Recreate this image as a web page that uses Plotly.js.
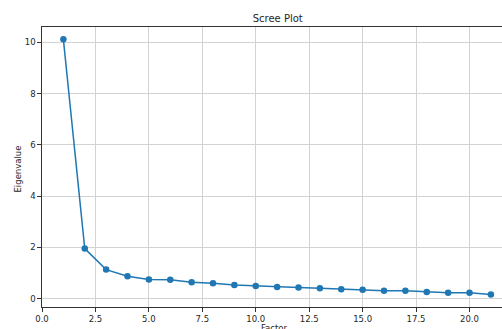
<!DOCTYPE html>
<html>
<head>
<meta charset="utf-8">
<script src="https://cdn.plot.ly/plotly-3.0.1.min.js"></script>
<style>html,body{margin:0;padding:0;background:#fff;}#chart{width:502px;height:329px;}</style>
</head>
<body>
<div id="chart"></div>
<script>
const factors = [1,2,3,4,5,6,7,8,9,10,11,12,13,14,15,16,17,18,19,20,21];
const eigenvalues = [10.12,1.95,1.13,0.87,0.74,0.73,0.64,0.60,0.53,0.49,0.45,0.43,0.40,0.36,0.34,0.30,0.30,0.26,0.23,0.23,0.16];
const xTicks = [0,2.5,5,7.5,10,12.5,15,17.5,20];
const yTicks = [0,2,4,6,8,10];

const trace = {
  x: factors, y: eigenvalues, type: 'scatter', mode: 'lines+markers',
  line: {color: '#1f77b4', width: 1.5},
  marker: {color: '#1f77b4', size: 6.5}
};
const font = {family: 'DejaVu Sans, sans-serif', size: 8.5, color: '#262626'};
const layout = {
  width: 502, height: 329,
  margin: {l: 42, r: 0, t: 27, b: 22, pad: 0},
  paper_bgcolor: '#fff', plot_bgcolor: '#fff',
  font: font,
  showlegend: false,
  title: {text: 'Scree Plot', font: {family: 'DejaVu Sans, sans-serif', size: 10, color: '#262626'},
          xref: 'container', yref: 'container', x: 277.7 / 502, y: 1 - 18.5 / 329, xanchor: 'center', yanchor: 'middle'},
  xaxis: {
    range: [0, 21.52], tickvals: xTicks, ticktext: xTicks.map(v => v.toFixed(1)),
    showgrid: true, gridcolor: '#d3d3d3', gridwidth: 1,
    showline: true, linecolor: '#333', linewidth: 1.2, mirror: true,
    ticks: 'outside', ticklen: 3.5, tickcolor: '#333', zeroline: false,
    tickfont: font,
    automargin: false
  },
  yaxis: {
    range: [-0.33, 10.6], tickvals: yTicks,
    showgrid: true, gridcolor: '#d3d3d3', gridwidth: 1,
    showline: true, linecolor: '#333', linewidth: 1.2, mirror: false,
    ticks: 'outside', ticklen: 3.5, tickcolor: '#333', zeroline: false,
    tickfont: font,
    automargin: false
  },
  annotations: [
    {text: 'Factor', xref: 'paper', yref: 'paper', x: (274 - 42) / 460, y: -(322 - 307) / 280,
     xanchor: 'center', yanchor: 'top', showarrow: false, font: font, borderpad: 0},
    {text: 'Eigenvalue', xref: 'paper', yref: 'paper', x: (17.5 - 42) / 460, y: (307 - 169) / 280, textangle: -90,
     xanchor: 'center', yanchor: 'middle', showarrow: false, font: font, borderpad: 0}
  ]
};
Plotly.newPlot('chart', [trace], layout, {displayModeBar: false, staticPlot: true});
</script>
</body>
</html>
